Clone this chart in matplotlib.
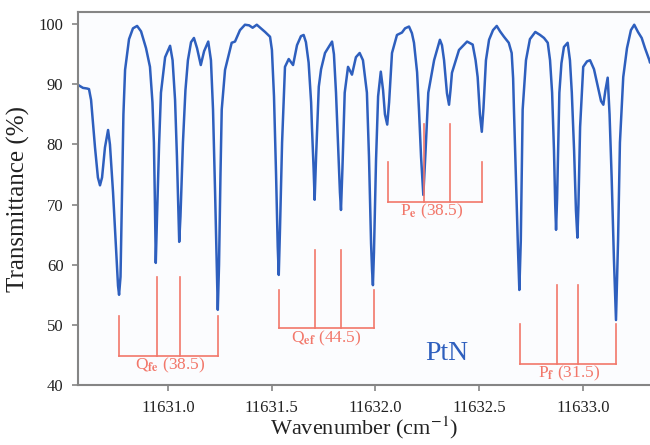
import matplotlib
matplotlib.use('Agg')
import matplotlib.pyplot as plt
import numpy as np

# ── spectrum trace ──────────────────────────────────────────────────────────
wavenumber = [
    11630.566, 11630.590, 11630.609, 11630.619, 11630.629, 11630.648, 11630.662,
    11630.672, 11630.682, 11630.696, 11630.711, 11630.720, 11630.735, 11630.749,
    11630.759, 11630.764, 11630.771, 11630.778, 11630.785, 11630.793, 11630.812,
    11630.831, 11630.851, 11630.870, 11630.894, 11630.913, 11630.925, 11630.932,
    11630.937, 11630.941, 11630.947, 11630.957, 11630.966, 11630.986, 11631.010,
    11631.022, 11631.034, 11631.043, 11631.051, 11631.054, 11631.060, 11631.072,
    11631.084, 11631.096, 11631.111, 11631.125, 11631.140, 11631.158, 11631.174,
    11631.194, 11631.207, 11631.217, 11631.227, 11631.235, 11631.240, 11631.246,
    11631.253, 11631.259, 11631.275, 11631.307, 11631.323, 11631.347, 11631.371,
    11631.391, 11631.408, 11631.428, 11631.448, 11631.468, 11631.492, 11631.501,
    11631.511, 11631.521, 11631.529, 11631.534, 11631.540, 11631.550, 11631.564,
    11631.582, 11631.603, 11631.622, 11631.641, 11631.654, 11631.665, 11631.678,
    11631.690, 11631.694, 11631.702, 11631.707, 11631.714, 11631.727, 11631.738,
    11631.757, 11631.791, 11631.800, 11631.810, 11631.822, 11631.829, 11631.834,
    11631.841, 11631.852, 11631.868, 11631.887, 11631.906, 11631.924, 11631.940,
    11631.959, 11631.969, 11631.979, 11631.984, 11631.988, 11631.993, 11632.003,
    11632.013, 11632.026, 11632.037, 11632.046, 11632.057, 11632.066, 11632.080,
    11632.104, 11632.128, 11632.143, 11632.162, 11632.176, 11632.186, 11632.201,
    11632.210, 11632.220, 11632.231, 11632.242, 11632.255, 11632.283, 11632.311,
    11632.321, 11632.331, 11632.345, 11632.355, 11632.362, 11632.369, 11632.403,
    11632.442, 11632.469, 11632.483, 11632.493, 11632.504, 11632.513, 11632.521,
    11632.533, 11632.548, 11632.567, 11632.585, 11632.601, 11632.620, 11632.643,
    11632.657, 11632.664, 11632.668, 11632.678, 11632.688, 11632.694, 11632.701,
    11632.710, 11632.726, 11632.745, 11632.771, 11632.794, 11632.813, 11632.831,
    11632.842, 11632.852, 11632.861, 11632.867, 11632.871, 11632.876, 11632.887,
    11632.897, 11632.909, 11632.927, 11632.938, 11632.947, 11632.958, 11632.967,
    11632.974, 11632.979, 11632.987, 11633.002, 11633.020, 11633.035, 11633.054,
    11633.073, 11633.088, 11633.099, 11633.109, 11633.120, 11633.129, 11633.139,
    11633.150, 11633.160, 11633.170, 11633.179, 11633.195, 11633.213, 11633.232,
    11633.248, 11633.266, 11633.284, 11633.300, 11633.321, 11633.324,
]
transmittance = [
    89.9, 89.4, 89.3, 89.2, 87.4, 79.5, 74.5,
    73.2, 74.5, 79.5, 82.4, 80.0, 72.0, 63.0,
    56.5, 55.0, 58.0, 72.0, 85.0, 92.4, 97.5,
    99.3, 99.7, 98.8, 96.0, 92.9, 87.0, 80.3,
    70.0, 60.3, 68.0, 80.0, 88.6, 94.5, 96.4,
    94.0, 87.4, 78.0, 68.0, 63.8, 68.0, 80.3,
    89.0, 94.0, 97.0, 97.7, 96.0, 93.2, 95.5,
    97.1, 94.0, 85.8, 72.0, 60.0, 52.5, 60.0,
    75.0, 85.8, 92.4, 96.9, 97.1, 99.0, 99.9,
    99.8, 99.4, 99.9, 99.3, 98.7, 97.9, 95.7,
    88.0, 75.0, 63.0, 58.3, 66.0, 80.3, 92.9,
    94.2, 93.2, 96.5, 98.0, 98.2, 97.0, 93.6,
    87.0, 82.9, 76.0, 70.8, 78.0, 89.6, 92.5,
    95.2, 97.1, 95.0, 88.6, 78.0, 72.0, 69.1,
    76.0, 88.6, 92.9, 91.6, 94.5, 95.2, 94.0,
    88.6, 78.0, 63.6, 59.0, 56.6, 62.0, 77.4,
    88.0, 92.1, 89.0, 85.0, 83.3, 87.0, 95.2,
    98.2, 98.6, 99.3, 99.6, 98.5, 96.9, 92.0,
    85.8, 78.0, 71.6, 79.0, 88.6, 94.0, 97.4,
    96.5, 94.0, 88.5, 86.6, 89.0, 91.9, 95.7,
    97.1, 96.6, 94.0, 91.2, 85.0, 82.1, 86.0,
    94.0, 97.4, 99.0, 99.7, 98.8, 97.9, 96.9,
    95.2, 91.0, 85.8, 74.0, 62.0, 55.8, 64.0,
    85.8, 94.0, 97.5, 98.7, 98.2, 97.7, 96.9,
    94.0, 88.6, 79.0, 70.0, 65.8, 71.0, 88.6,
    93.5, 96.2, 96.9, 94.0, 88.6, 79.0, 69.0,
    64.5, 70.0, 82.9, 92.9, 93.8, 94.0, 92.5,
    89.5, 87.2, 86.6, 89.0, 91.1, 85.0, 74.6,
    61.0, 50.8, 64.0, 80.3, 91.2, 96.0, 99.0,
    99.9, 98.7, 97.7, 96.0, 94.0, 93.6,
]

# ── branch assignments: line positions + bracket heights ────────────────────
branch_labels = [r'Q$_{\mathbf{fe}}$ (38.5)', r'Q$_{\mathbf{ef}}$ (44.5)',
                 r'P$_{\mathbf{e}}$ (38.5)', r'P$_{\mathbf{f}}$ (31.5)']
branch_lines = [
    [11630.765, 11630.946, 11631.058, 11631.243],
    [11631.533, 11631.710, 11631.834, 11631.993],
    [11632.059, 11632.234, 11632.360, 11632.513],
    [11632.697, 11632.877, 11632.978, 11633.160],
]
branch_base = [44.8, 49.4, 70.5, 43.5]
branch_outer = [51.5, 55.8, 77.0, 50.1]
branch_inner = [58.0, 62.5, 83.4, 56.6]
label_x = [11631.010, 11631.764, 11632.273, 11632.936]
label_y = [43.2, 47.8, 68.8, 42.0]

x_ticks = [11631.0, 11631.5, 11632.0, 11632.5, 11633.0]
y_ticks = [40, 50, 60, 70, 80, 90, 100]

plt.rcParams['font.family'] = ['Liberation Serif', 'DejaVu Serif']
plt.rcParams['mathtext.fontset'] = 'stix'

blue = '#2e5fbe'
red = '#f2776a'
grey = '#858585'

fig = plt.figure(figsize=(6.5, 4.45), dpi=100)
ax = fig.add_axes([0.12, 0.1348, 0.88, 0.838])
ax.set_facecolor('#fbfcfe')

ax.plot(wavenumber, transmittance, color=blue, linewidth=1.8,
        solid_joinstyle='round', solid_capstyle='round')

for lines, base, outer, inner, lab, lx, ly in zip(branch_lines, branch_base,
                                                  branch_outer, branch_inner,
                                                  branch_labels, label_x, label_y):
    ax.plot([lines[0], lines[-1]], [base, base], color=red, linewidth=1.2)
    for i, xv in enumerate(lines):
        top = outer if i in (0, len(lines) - 1) else inner
        ax.plot([xv, xv], [base, top], color=red, linewidth=1.2)
    ax.text(lx, ly, lab, color=red, fontsize=12.5, ha='center', va='center')

ax.text(11632.344, 45.2, 'PtN', color=blue, fontsize=20, ha='center', va='center')

ax.set_xlim(11630.566, 11633.324)
ax.set_ylim(40, 102)
ax.set_xticks(x_ticks)
ax.set_xticklabels([f'{v:.1f}' for v in x_ticks])
ax.set_yticks(y_ticks)

for side in ['left', 'bottom', 'top']:
    ax.spines[side].set_color(grey)
    ax.spines[side].set_linewidth(1.5)
ax.spines['right'].set_visible(False)
ax.tick_params(axis='both', direction='out', length=4.5, width=1.2, color=grey,
               labelsize=12, labelcolor='#222222', pad=6)

ax.set_xlabel('Wavenumber (cm$^{-1}$)', fontsize=16, labelpad=-1, color='#222222')
ax.set_ylabel('Transmittance (%)', fontsize=18, labelpad=6, color='#222222')

plt.savefig('out.png', dpi=100)
plt.close()
